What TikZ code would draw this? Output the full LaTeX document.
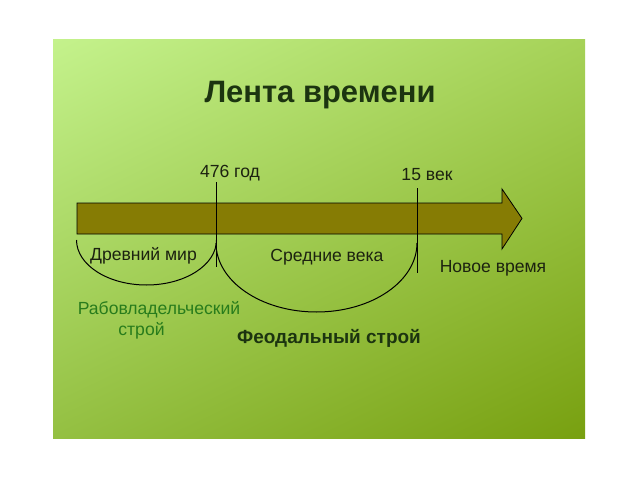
\documentclass[tikz,border=0pt]{standalone}
\usepackage{fontspec}
\setmainfont{Liberation Sans}
\usepackage{tikz}
\usetikzlibrary{positioning}
\usetikzlibrary{shadings}

\definecolor{barolive}{RGB}{134,124,4}
\definecolor{titlegreen}{RGB}{28,52,16}
\definecolor{slavegreen}{RGB}{40,124,28}
\definecolor{labeldark}{RGB}{28,34,16}
\definecolor{bgUL}{RGB}{196,242,140}
\definecolor{bgUR}{RGB}{166,210,88}
\definecolor{bgLL}{RGB}{148,192,66}
\definecolor{bgLR}{RGB}{120,160,16}

\begin{document}
\begin{tikzpicture}[line width=0.2mm,
  lbl/.style={text=labeldark,font=\fontsize{12.5}{15}\selectfont,inner sep=0pt},
  tick/.style={black,line width=0.25mm},
  era/.style={black,line width=0.25mm}]

\useasboundingbox[fill=white] (0,0) rectangle (16,12);

% background
\shade[upper left=bgUL,upper right=bgUR,lower left=bgLL,lower right=bgLR]
  (1.325,1.05) rectangle (14.625,11.0);

% title
\node[text=titlegreen,font=\fontsize{22}{26}\selectfont\bfseries] (title) at (8.0,9.625) {Лента времени};

% time band
\draw[black,line width=0.2mm,fill=barolive]
  (1.925,6.15) -- (1.925,6.925) -- (12.55,6.925) -- (12.55,7.275)
  -- (13.05,6.54) -- (12.55,5.775) -- (12.55,6.15) -- cycle;

% ticks
\coordinate (y476top) at (5.4,7.45);
\coordinate (y476bot) at (5.4,5.325);
\coordinate (c15top) at (10.425,7.3);
\coordinate (c15bot) at (10.425,5.175);
\draw[tick] (y476top) -- (y476bot);
\draw[tick] (c15top) -- (c15bot);
\node[lbl,above=0.02cm of y476top,xshift=0.35cm] (y476) {476 год};
\node[lbl,above=0.17cm of c15top,xshift=0.25cm] (c15) {15 век};

% eras
\coordinate (ancientL) at (1.9125,6.0);
\coordinate (middleL) at (5.4,5.925);
\draw[era] (ancientL) arc (180:360:1.75cm and 1.125cm);
\draw[era] (middleL) arc (180:360:2.5125cm and 1.725cm);

\node[lbl] (ancient) at (3.5875,5.6) {Древний мир};
\node[lbl] (middle) at (8.175,5.575) {Средние века};
\node[lbl] (modern) at (12.325,5.3) {Новое время};

% formations
\node[lbl,text=slavegreen] (slave1) at (3.975,4.25) {Рабовладельческий};
\node[lbl,text=slavegreen] (slave2) at (3.5375,3.73) {строй};
\node[lbl,text=titlegreen,font=\fontsize{13.5}{16}\selectfont\bfseries] (feudal) at (8.225,3.53) {Феодальный строй};
\end{tikzpicture}
\end{document}
